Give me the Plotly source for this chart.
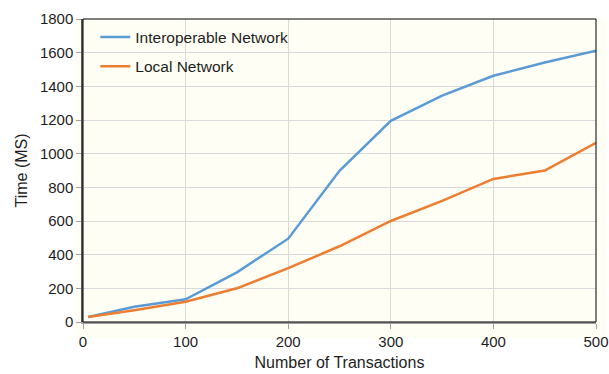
import plotly.graph_objects as go

transactions = [5, 50, 100, 150, 200, 250, 300, 350, 400, 450, 500]
interop_ms = [30, 90, 135, 295, 495, 898, 1195, 1345, 1463, 1542, 1612]
local_ms = [30, 70, 120, 200, 320, 450, 600, 720, 850, 900, 1065]
x_ticks = [0, 100, 200, 300, 400, 500]
y_ticks = [0, 200, 400, 600, 800, 1000, 1200, 1400, 1600, 1800]

fig = go.Figure()
fig.add_trace(go.Scatter(x=transactions, y=interop_ms, mode="lines", name="Interoperable Network",
                         legendgroup="a", line=dict(color="#5B9BD5", width=2.5)))
fig.add_trace(go.Scatter(x=transactions, y=local_ms, mode="lines", name="Local Network",
                         legendgroup="b", line=dict(color="#ED7D31", width=2.5)))

fig.add_shape(type="rect", xref="paper", yref="paper", x0=-0.016, x1=1.02, y0=-0.055, y1=1.0,
              fillcolor="#FFFEF4", line=dict(width=0), layer="below")
# top and right border
fig.add_shape(type="rect", xref="paper", yref="paper", x0=0, x1=1, y0=0, y1=1,
              line=dict(color="#000000", width=1), layer="above")

fig.update_layout(
    width=609, height=374,
    margin=dict(l=83, r=13, t=19, b=52, autoexpand=False),
    paper_bgcolor="white",
    plot_bgcolor="#FFFDF0",
    font=dict(family="Liberation Sans, Arial, sans-serif", size=15, color="#1e1e1e"),
    showlegend=True,
    legend=dict(x=0.024, y=0.995, xanchor="left", yanchor="top", bgcolor="rgba(0,0,0,0)",
                font=dict(size=15.5, color="#1e1e1e"), traceorder="grouped", tracegroupgap=6,
                itemwidth=30),
    xaxis=dict(range=[0, 500], tickvals=x_ticks, ticks="outside", ticklen=5, tickcolor="#A0A0A0",
               showline=True, linecolor="#A0A0A0", linewidth=1.5, showgrid=True, gridcolor="#D9D9D9",
               gridwidth=1.3, zeroline=False, automargin=False, tickfont=dict(size=15),
               title=dict(text="Number of Transactions", font=dict(size=16), standoff=8)),
    yaxis=dict(range=[0, 1800], tickvals=y_ticks, ticks="outside", ticklen=5, tickcolor="#A0A0A0",
               showline=True, linecolor="#595959", linewidth=1.5, showgrid=True, gridcolor="#D9D9D9",
               gridwidth=1.3, zeroline=False, automargin=False, tickfont=dict(size=15),
               title=dict(text="Time (MS)", font=dict(size=16), standoff=8)),
)

fig.write_html("out.html", config={"displayModeBar": False},
               post_script="document.body.style.margin='0';document.body.style.overflow='hidden';")
